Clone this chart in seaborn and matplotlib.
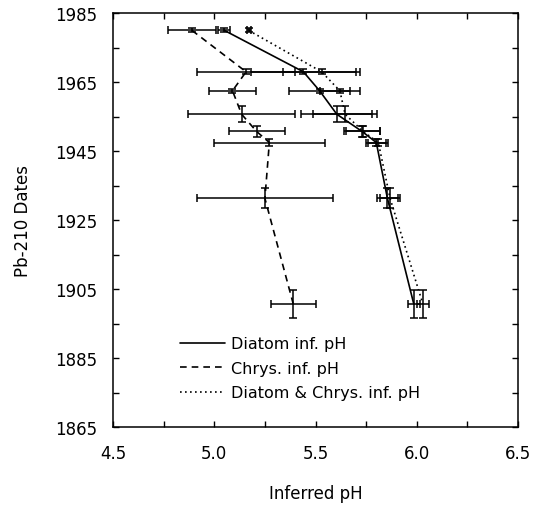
import matplotlib
matplotlib.use("Agg")
import matplotlib.pyplot as plt
from matplotlib.ticker import MultipleLocator, FixedLocator
import numpy as np
import pandas as pd
import seaborn as sns

# Pb-210 dated core levels and their dating uncertainty (years)
dates = [1980.0, 1968.0, 1962.5, 1955.7, 1950.7, 1947.5, 1931.3, 1900.7]
date_err = [0.6, 0.7, 0.6, 2.3, 1.5, 0.9, 2.9, 4.0]

# Inferred pH and its error for each reconstruction
diatom_ph = [5.05, 5.44, 5.52, 5.605, 5.73, 5.80, 5.855, 5.985]
diatom_err = [0.03, 0.26, 0.15, 0.175, 0.087, 0.05, 0.05, 0.03]
chrys_ph = [4.89, 5.157, 5.09, 5.135, 5.209, 5.272, 5.25, 5.39]
chrys_err = [0.12, 0.24, 0.114, 0.266, 0.138, 0.275, 0.337, 0.11]
combo_ph = [5.17, 5.53, 5.62, 5.646, 5.735, 5.81, 5.868, 6.03]
combo_err = [0.01, 0.19, 0.10, 0.158, 0.085, 0.05, 0.05, 0.03]

labels = ["Diatom inf. pH", "Chrys. inf. pH", "Diatom & Chrys. inf. pH"]
styles = ["-", (0, (4, 3)), (0, (1, 2))]

year_ticks = [1865, 1885, 1905, 1925, 1945, 1965, 1985]
year_minor = [1875, 1895, 1915, 1935, 1955, 1975]

sns.set_style("ticks")
plt.rcParams["font.family"] = ["DejaVu Sans"]

fig = plt.figure(figsize=(5.33, 5.06), dpi=100)
ax = fig.add_axes([0.212, 0.154, 0.760, 0.818])

series = [(diatom_ph, diatom_err), (chrys_ph, chrys_err), (combo_ph, combo_err)]
for (ph, err), lab, ls in zip(series, labels, styles):
    df = pd.DataFrame({"ph": ph, "date": dates})
    sns.lineplot(data=df, x="ph", y="date", sort=False, estimator=None,
                 color="black", linewidth=1.2, linestyle=ls, label=lab, ax=ax)
    ax.errorbar(ph, dates, xerr=err, yerr=date_err, fmt="none",
                ecolor="black", elinewidth=1.1, capsize=2.6, capthick=1.1)

ax.set_xlim(4.5, 6.5)
ax.set_ylim(1865, 1985)
ax.xaxis.set_major_locator(MultipleLocator(0.5))
ax.xaxis.set_minor_locator(MultipleLocator(0.25))
ax.yaxis.set_major_locator(FixedLocator(year_ticks))
ax.yaxis.set_minor_locator(FixedLocator(year_minor))
ax.set_xticklabels([f"{v:.1f}" for v in ax.get_xticks()])
ax.tick_params(which="both", direction="in", top=True, right=True,
               length=4.5, width=1, labelsize=12, color="black",
               labelcolor="black")
ax.tick_params(axis="x", pad=12)
ax.tick_params(axis="y", pad=11)
for s in ax.spines.values():
    s.set_linewidth(1.1)
    s.set_color("black")

ax.set_xlabel("Inferred pH", fontsize=12, labelpad=16, color="black")
ax.set_ylabel("Pb-210 Dates", fontsize=12, labelpad=17, color="black")

leg = ax.legend(loc="upper left", bbox_to_anchor=(0.15, 0.235), frameon=False,
                fontsize=11.5, handlelength=2.8, handletextpad=0.4,
                labelspacing=0.6, borderaxespad=0)
for t in leg.get_texts():
    t.set_color("black")

fig.savefig("out.png", dpi=100)
